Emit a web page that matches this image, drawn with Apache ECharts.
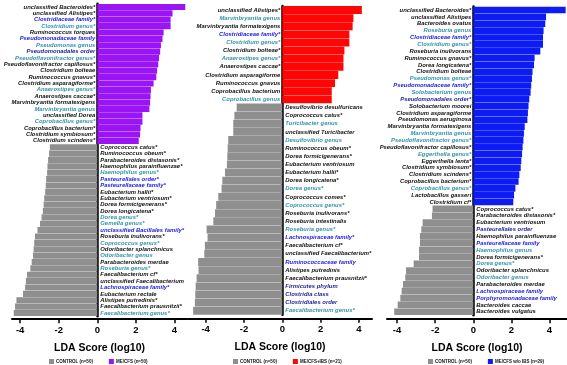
<!doctype html>
<html>
<head>
<meta charset="utf-8">
<title>LDA scores</title>
<style>
  html, body { margin: 0; padding: 0; background: #fff; }
  #main { width: 567px; height: 365px; }
</style>
</head>
<body>
<div id="main"></div>
<script src="https://cdn.jsdelivr.net/npm/echarts@6/dist/echarts.min.js"></script>
<script>
// kinds: s = species (black), g = genus (teal), f = family (blue), o = order/class/phylum (navy)
var p1Names = ['unclassified Bacteroides*', 'unclassified Alistipes*', 'Clostridiaceae family*', 'Clostridium genus*',
  'Ruminococcus torques', 'Pseudomonadaceae family', 'Pseudomonas genus', 'Pseudomonadales order',
  'Pseudoflavonifractor genus*', 'Pseudoflavonifractor capillosus*', 'Clostridium bolteae', 'Ruminococcus gnavus*',
  'Clostridium asparagiforme*', 'Anaerostipes genus*', 'Anaerostipes caccae*', 'Marvinbryantia formatexigens',
  'Marvinbryantia genus', 'unclassified Dorea', 'Coprobacillus genus*', 'Coprobacillus bacterium*',
  'Clostridium symbiosum*', 'Clostridium scindens*',
  'Coprococcus catus*', 'Ruminococcus obeum*', 'Parabacteroides distasonis*', 'Haemophilus parainfluenzae*',
  'Haemophilus genus*', 'Pasteurellales order*', 'Pasteurellaceae family*', 'Eubacterium hallii*',
  'Eubacterium ventriosum*', 'Dorea formicigenerans*', 'Dorea longicatena*', 'Dorea genus*', 'Gemella genus*',
  'unclassified Bacillales family*', 'Roseburia inulivorans*', 'Coprococcus genus*', 'Odoribacter splanchnicus',
  'Odoribacter genus', 'Parabacteroides merdae', 'Roseburia genus*', 'Faecalibacterium cf*',
  'unclassified Faecalibacterium', 'Lachnospiraceae family*', 'Eubacterium rectale', 'Alistipes putredinis*',
  'Faecalibacterium prausnitzii*', 'Faecalibacterium genus*'];
var p1Values = [4.56, 3.9, 3.8, 3.8, 3.44, 3.38, 3.3, 3.26, 3.2, 3.16, 3.1, 3.06, 2.92, 2.78, 2.76, 2.74, 2.7,
  2.34, 2.34, 2.24, 2.22, 2.15,
  -2.46, -2.5, -2.55, -2.58, -2.6, -2.65, -2.67, -2.7, -2.75, -2.78, -2.82, -2.89, -2.97, -3.1, -3.23, -3.27,
  -3.3, -3.33, -3.4, -3.47, -3.64, -3.7, -3.74, -3.85, -4.19, -4.26, -4.33];
var p1Kinds = ['s', 's', 'f', 'g', 's', 'f', 'g', 'o', 'g', 's', 's', 's', 's', 'g', 's', 's', 'g', 's', 'g', 's', 's', 's',
  's', 's', 's', 's', 'g', 'f', 'f', 's', 's', 's', 's', 'g', 'g', 'f', 's', 'g', 's', 'g', 's', 'g', 's', 's', 'f',
  's', 's', 's', 'g'];

var p2Names = ['unclassified Alistipes*', 'Marvinbryantia genus', 'Marvinbryantia formatexigens', 'Clostridiaceae family*',
  'Clostridium genus*', 'Clostridium bolteae*', 'Anaerostipes genus*', 'Anaerostipes caccae*',
  'Clostridium asparagiforme', 'Ruminococcus gnavus', 'Coprobacillus bacterium', 'Coprobacillus genus',
  'Desulfovibrio desulfuricans', 'Coprococcus catus*', 'Turicibacter genus', 'unclassified Turicibacter',
  'Desulfovibrio genus', 'Ruminococcus obeum*', 'Dorea formicigenerans*', 'Eubacterium ventriosum',
  'Eubacterium hallii*', 'Dorea longicatena*', 'Dorea genus*', 'Coprococcus comes*', 'Coprococcus genus*',
  'Roseburia inulivorans*', 'Roseburia intestinalis', 'Roseburia genus*', 'Lachnospiraceae family*',
  'Faecalibacterium cf*', 'unclassified Faecalibacterium*', 'Ruminococcaceae family', 'Alistipes putredinis',
  'Faecalibacterium prausnitzii*', 'Firmicutes phylum', 'Clostridia class', 'Clostridiales order',
  'Faecalibacterium genus*'];
var p2Values = [4.15, 3.71, 3.67, 3.5, 3.5, 3.24, 3.19, 3.19, 2.92, 2.75, 2.58, 2.58,
  -2.38, -2.5, -2.56, -2.56, -2.82, -2.85, -2.87, -2.89, -2.99, -3.13, -3.17, -3.34, -3.45, -3.51, -3.6,
  -3.95, -3.9, -4.04, -4.07, -4.39, -4.37, -4.47, -4.52, -4.54, -4.56, -4.65];
var p2Kinds = ['s', 'g', 's', 'f', 'g', 's', 'g', 's', 's', 's', 's', 'g',
  's', 's', 'g', 's', 'g', 's', 's', 's', 's', 's', 'g', 's', 'g', 's', 's', 'g', 'f', 's', 's', 'f', 's', 's',
  'o', 'o', 'o', 'g'];

var p3Names = ['unclassified Bacteroides*', 'unclassified Alistipes', 'Bacteroides ovatus', 'Roseburia genus',
  'Clostridiaceae family*', 'Clostridium genus*', 'Roseburia inulivorans', 'Ruminococcus gnavus*',
  'Dorea longicatena*', 'Clostridium bolteae', 'Pseudomonas genus*', 'Pseudomonadaceae family*',
  'Solobacterium genus', 'Pseudomonadales order*', 'Solobacterium moorei', 'Clostridium asparagiforme',
  'Pseudomonas aeruginosa', 'Marvinbryantia formatexigens', 'Marvinbryantia genus', 'Pseudoflavonifractor genus*',
  'Pseudoflavonifractor capillosus*', 'Eggerthella genus*', 'Eggerthella lenta*', 'Clostridium symbiosum*',
  'Clostridium scindens*', 'Coprobacillus bacterium*', 'Coprobacillus genus*', 'Lactobacillus gasseri',
  'Clostridium cf*',
  'Coprococcus catus*', 'Parabacteroides distasonis*', 'Eubacterium ventriosum', 'Pasteurellales order',
  'Haemophilus parainfluenzae', 'Pasteurellaceae family', 'Haemophilus genus', 'Dorea formicigenerans*',
  'Dorea genus*', 'Odoribacter splanchnicus', 'Odoribacter genus', 'Parabacteroides merdae',
  'Lachnospiraceae family', 'Porphyromonadaceae family', 'Bacteroides caccae', 'Bacteroides vulgatus'];
var p3Values = [4.85, 3.82, 3.78, 3.69, 3.66, 3.66, 3.52, 3.22, 3.19, 3.11, 3.08, 3.04, 3.01, 2.94, 2.9, 2.87,
  2.84, 2.7, 2.66, 2.63, 2.59, 2.56, 2.52, 2.49, 2.42, 2.38, 2.21, 2.14, 2.1,
  -2.14, -2.17, -2.66, -2.73, -2.8, -2.8, -2.85, -2.85, -3.13, -3.53, -3.57, -3.69, -3.76, -3.83, -3.97, -4.15];
var p3Kinds = ['s', 's', 's', 'g', 'f', 'g', 's', 's', 's', 's', 'g', 'f', 'g', 'o', 's', 's', 's', 's', 'g', 'g',
  's', 'g', 's', 's', 's', 's', 'g', 's', 's',
  's', 's', 's', 'o', 's', 'f', 'g', 's', 'g', 's', 'g', 's', 'f', 'f', 's', 's'];

var groupNames = ['ME/CFS (n=50)', 'ME/CFS+IBS (n=21)', 'ME/CFS w/o IBS (n=29)'];
var controlName = 'CONTROL (n=50)';
var tickValues = [-4, -2, 0, 2, 4];

var kindColor = { s: '#111111', g: '#3494a8', f: '#1a1ae8', o: '#1e1e9a' };
var caseColors = ['#9a14f6', '#ff0606', '#0c1cf2'];
var ctrlColor = '#8f8f8f';
var font = 'Liberation Sans';

var panels = [
  { names: p1Names, values: p1Values, kinds: p1Kinds, left: 12, width: 175, top: 3.8, height: 312.4, min: -4.42, max: 4.65, offset: 3, legendLeft: 44 },
  { names: p2Names, values: p2Values, kinds: p2Kinds, left: 188, width: 184, top: 5.9, height: 308.9, min: -4.92, max: 4.68, offset: 4, legendLeft: 228 },
  { names: p3Names, values: p3Values, kinds: p3Kinds, left: 387, width: 180, top: 6.6, height: 308.6, min: -4.53, max: 4.92, offset: 4, legendLeft: 423 }
];

var grids = [], xAxes = [], yAxes = [], series = [], legends = [];
panels.forEach(function (p, i) {
  grids.push({ left: p.left, width: p.width, top: p.top, height: p.height });
  xAxes.push({
    type: 'value', gridIndex: i, min: p.min, max: p.max, offset: p.offset,
    splitLine: { show: false },
    axisLine: { show: true, lineStyle: { color: '#000', width: 2 } },
    axisTick: { show: true, length: 4, lineStyle: { color: '#000', width: 1.5 }, customValues: tickValues },
    axisLabel: { customValues: tickValues, margin: 6, color: '#000', fontWeight: 'bold', fontSize: 9.5, fontFamily: font },
    name: 'LDA Score (log10)', nameLocation: 'middle', nameGap: 23,
    nameTextStyle: { color: '#000', fontWeight: 'bold', fontSize: 10.5, fontFamily: font }
  });
  yAxes.push({
    type: 'category', gridIndex: i, data: p.names, inverse: true,
    axisLine: { onZero: true, lineStyle: { color: '#000', width: 2.5 } },
    axisTick: { show: false }, axisLabel: { show: false }, splitLine: { show: false }
  });
  function items(sign) {
    return p.values.map(function (v, k) {
      if ((sign > 0) !== (v > 0)) return '-';
      return { value: v, label: { color: kindColor[p.kinds[k]] } };
    });
  }
  var labelBase = { show: true, formatter: '{b}', fontSize: 5.9, fontStyle: 'italic', fontWeight: 'bold', fontFamily: font };
  series.push({
    type: 'bar', name: groupNames[i], xAxisIndex: i, yAxisIndex: i, stack: 'p' + i,
    barCategoryGap: '3%', itemStyle: { color: caseColors[i] },
    label: Object.assign({ position: 'left', distance: 2 }, labelBase),
    data: items(1)
  });
  series.push({
    type: 'bar', name: controlName, xAxisIndex: i, yAxisIndex: i, stack: 'p' + i,
    barCategoryGap: '3%', itemStyle: { color: ctrlColor },
    label: Object.assign({ position: 'right', distance: 3 }, labelBase),
    data: items(-1)
  });
  legends.push({
    data: [controlName, groupNames[i]], left: p.legendLeft, top: 354,
    itemWidth: 5, itemHeight: 5, itemGap: 16, icon: 'rect', selectedMode: false,
    textStyle: { fontSize: 4.5, fontWeight: 'bold', fontFamily: font, color: '#111', padding: [0, 0, 0, -3] }
  });
});

var chart = echarts.init(document.getElementById('main'));
chart.setOption({
  animation: false,
  grid: grids,
  xAxis: xAxes,
  yAxis: yAxes,
  legend: legends,
  series: series
});
</script>
</body>
</html>
